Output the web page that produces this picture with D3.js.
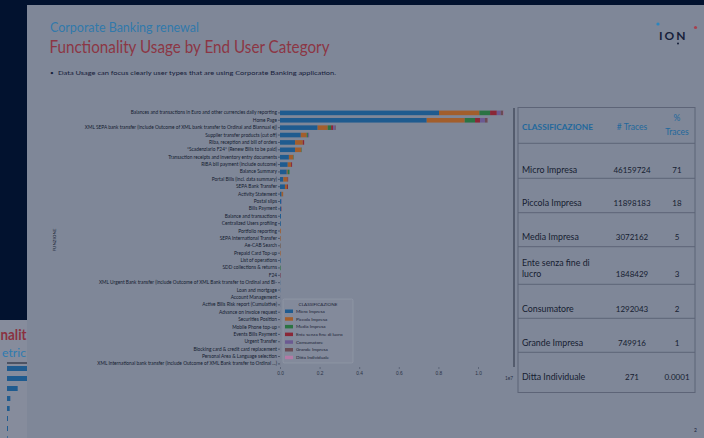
<!DOCTYPE html>
<html>
<head>
<meta charset="utf-8">
<script src="https://cdn.jsdelivr.net/npm/d3@7"></script>
<style>
  body { margin: 0; background: #02122f; }
  svg { display: block; font-family: Lato, "Open Sans", sans-serif; }
</style>
</head>
<body>
<div id="slide"></div>
<script>
// functions, top to bottom
var functions = [
  "Balances and transactions in Euro and other currencies daily reporting",
  "Home Page",
  "XML SEPA bank transfer (include Outcome of XML bank transfer to Ordinal and Biannual ej)",
  "Supplier transfer products (cut off)",
  "Riba, reception and bill of orders",
  "*Scadenziario F24* (Renew Bills to be paid)",
  "Transaction receipts and inventory entry documents",
  "RiBA bill payment (include outcome)",
  "Balance Summary",
  "Portal Bills (incl. data summary)",
  "SEPA Bank Transfer",
  "Activity Statement",
  "Postal slips",
  "Bills Payment",
  "Balance and transactions",
  "Centralized Users profiling",
  "Portfolio reporting",
  "SEPA International Transfer",
  "Ae-CAB Search",
  "Prepaid Card Top-up",
  "List of operations",
  "SDD collections & returns",
  "F24",
  "XML Urgent Bank transfer (include Outcome of XML Bank transfer to Ordinal and Bi-",
  "Loan and mortgage",
  "Account Management",
  "Active Bills Risk report (Cumulative)",
  "Advance on invoice request",
  "Securities Position",
  "Mobile Phone top-up",
  "Events Bills Payment",
  "Urgent Transfer",
  "Blocking card & credit card replacement",
  "Personal Area & Language selection",
  "XML International bank transfer (include Outcome of XML Bank transfer to Ordinal ...)"
];

var categories = ["Micro Impresa", "Piccola Impresa", "Media Impresa", "Ente senza fine di lucro",
  "Consumatore", "Grande Impresa", "Ditta Individuale"];

// traces per function (millions), one array per category
var microImpresa   = [8.03, 7.41, 1.90, 1.05, 0.76, 0.76, 0.45, 0.39, 0.34, 0.17, 0.25, 0.08, 0.06, 0.05, 0.05, 0.04, 0.00, 0.01, 0.02, 0.00, 0.03, 0.00, 0.01, 0.01, 0.01, 0.005, 0.005, 0.005, 0.004, 0.004, 0.003, 0.003, 0.003, 0.002, 0.002];
var piccolaImpresa = [2.04, 1.92, 0.51, 0.30, 0.39, 0.32, 0.22, 0.17, 0.05, 0.21, 0.10, 0.08, 0.00, 0.00, 0.00, 0.00, 0.04, 0.03, 0.02, 0.03, 0.00, 0.00, 0.00, 0.00, 0.00, 0.001, 0.001, 0.001, 0.001, 0.001, 0.001, 0.001, 0.001, 0.001, 0.001];
var mediaImpresa   = [0.54, 0.52, 0.17, 0.06, 0.00, 0.02, 0.02, 0.00, 0.09, 0.00, 0.00, 0.00, 0.00, 0.00, 0.00, 0.00, 0.00, 0.00, 0.00, 0.00, 0.00, 0.03, 0.00, 0.00, 0.00, 0, 0, 0, 0, 0, 0, 0, 0, 0, 0];
var enteNoProfit   = [0.34, 0.25, 0.10, 0.00, 0.07, 0.00, 0.00, 0.05, 0.00, 0.03, 0.05, 0.00, 0.00, 0.02, 0.00, 0.00, 0.00, 0.00, 0.00, 0.00, 0.00, 0.00, 0.02, 0.00, 0.00, 0, 0, 0, 0, 0, 0, 0, 0, 0, 0];
var consumatore    = [0.20, 0.25, 0.10, 0.06, 0.00, 0.00, 0.00, 0.00, 0.00, 0.00, 0.00, 0.00, 0.02, 0.00, 0.00, 0.00, 0.00, 0.00, 0.00, 0.00, 0.00, 0.00, 0.00, 0.00, 0.00, 0, 0, 0, 0, 0, 0, 0, 0, 0, 0];
var grandeImpresa  = [0.13, 0.14, 0.03, 0.00, 0.00, 0.00, 0.00, 0.00, 0.00, 0.00, 0.00, 0.00, 0.00, 0.00, 0.00, 0.00, 0.00, 0.00, 0.00, 0.00, 0.00, 0.00, 0.00, 0.00, 0.00, 0, 0, 0, 0, 0, 0, 0, 0, 0, 0];
var dittaIndiv     = [0.02, 0.01, 0.00, 0.00, 0.00, 0.00, 0.00, 0.00, 0.00, 0.00, 0.00, 0.00, 0.00, 0.00, 0.00, 0.00, 0.00, 0.00, 0.00, 0.00, 0.00, 0.00, 0.00, 0.00, 0.00, 0, 0, 0, 0, 0, 0, 0, 0, 0, 0];

var xTicks = [0, 2e6, 4e6, 6e6, 8e6, 1e7];

// table on the right
var tableNames  = [["Micro Impresa"], ["Piccola Impresa"], ["Media Impresa"], ["Ente senza fine di", "lucro"],
  ["Consumatore"], ["Grande Impresa"], ["Ditta Individuale"]];
var tableTraces = ["46159724", "11898183", "3072162", "1848429", "1292043", "749916", "271"];
var tablePct    = ["71", "18", "5", "3", "2", "1", "0.0001"];

// the other slide peeking out at the bottom left
var peekBars = [60, 60, 32, 10, 8, 3, 3, 2];

var colors = ["#1f5b8f", "#a25e2c", "#2b7343", "#8a2737", "#6b5a92", "#6a4b55", "#b47aa6"];

var W = 704, H = 438;
var svg = d3.select("#slide").append("svg").attr("width", W).attr("height", H);

// backgrounds
svg.append("rect").attr("width", W).attr("height", H).attr("fill", "#02122f");
var peek = svg.append("g");
peek.append("rect").attr("x", 0).attr("y", 320).attr("width", 27).attr("height", 118).attr("fill", "#868c9c");
peek.append("text").attr("x", 0.5).attr("y", 340).attr("fill", "#8a3140")
  .attr("font-size", 15).attr("font-weight", "bold")
  .attr("textLength", 26).attr("lengthAdjust", "spacingAndGlyphs").text("nalit");
peek.append("text").attr("x", 2).attr("y", 357).attr("fill", "#2f7bb0")
  .attr("font-size", 11).attr("textLength", 24).attr("lengthAdjust", "spacingAndGlyphs").text("etric");
peek.append("line").attr("x1", 7).attr("x2", 27).attr("y1", 363).attr("y2", 363)
  .attr("stroke", "#3a4050").attr("stroke-width", 1.5);
var xPeek = d3.scaleLinear().domain([0, 60]).range([7, 27]);
peek.selectAll(".pb").data(peekBars).enter().append("rect")
  .attr("x", 7).attr("y", function (d, i) { return 366 + i * 10; })
  .attr("height", 5).attr("width", function (d) { return xPeek(d) - 7; })
  .attr("fill", "#1f5b8f");

svg.append("rect").attr("x", 27).attr("y", 5).attr("width", W - 27).attr("height", H - 5).attr("fill", "#7f8798");

// titles
svg.append("text").attr("x", 50).attr("y", 32).attr("fill", "#3179ab").attr("font-size", 13)
  .attr("textLength", 149).attr("lengthAdjust", "spacingAndGlyphs").text("Corporate Banking renewal");
svg.append("text").attr("x", 49.5).attr("y", 53).attr("fill", "#8c3644").attr("font-size", 17.5)
  .attr("textLength", 280).attr("lengthAdjust", "spacingAndGlyphs").text("Functionality Usage by End User Category");
svg.append("text").attr("x", 50).attr("y", 75).attr("fill", "#16203a").attr("font-size", 6.5).text("•");
svg.append("text").attr("x", 58).attr("y", 75).attr("fill", "#16203a").attr("font-size", 6.5)
  .attr("textLength", 278).attr("lengthAdjust", "spacingAndGlyphs")
  .text("Data Usage can focus clearly user types that are using Corporate Banking application.");

// logo
svg.append("circle").attr("cx", 658).attr("cy", 24).attr("r", 1.6).attr("fill", "#2a86c0");
svg.append("circle").attr("cx", 695.5).attr("cy", 27.5).attr("r", 1.6).attr("fill", "#a8404e");
svg.append("circle").attr("cx", 678).attr("cy", 43.5).attr("r", 1).attr("fill", "#16203a");
svg.append("text").attr("x", 659).attr("y", 40).attr("fill", "#16203a").attr("font-size", 12)
  .attr("font-weight", "bold").attr("letter-spacing", 2).text("ION");

// page number
svg.append("text").attr("x", 694).attr("y", 432).attr("fill", "#16203a").attr("font-size", 5).text("2");

// ---- chart ----
var rows = functions.map(function (f, i) {
  return {
    name: f,
    values: [microImpresa[i], piccolaImpresa[i], mediaImpresa[i], enteNoProfit[i],
      consumatore[i], grandeImpresa[i], dittaIndiv[i]].map(function (v) { return v * 1e6; })
  };
});

var x = d3.scaleLinear().domain([0, 1e7]).range([280, 478]);
var y = d3.scaleBand().domain(functions).range([110.6, 366.2]).paddingInner(0.38);

var chart = svg.append("g");

var yAxis = d3.axisLeft(y).tickSize(2).tickPadding(1);
var gy = chart.append("g").attr("transform", "translate(280,0)").call(yAxis);
gy.select(".domain").remove();
gy.selectAll("line").attr("stroke", "#1a2236").attr("stroke-width", 0.5);
gy.selectAll("text").attr("font-size", 4.8).attr("fill", "#141c30").attr("font-family", "Lato");

chart.append("text").attr("transform", "translate(56,240) rotate(-90)").attr("text-anchor", "middle")
  .attr("font-size", 4.5).attr("fill", "#141c30").text("FUNZIONE");

var xAxis = d3.axisBottom(x).tickValues(xTicks).tickSize(2).tickPadding(3)
  .tickFormat(function (d) { return (d / 1e7).toFixed(1); });
var gx = chart.append("g").attr("transform", "translate(0,367)").call(xAxis);
gx.select(".domain").remove();
gx.selectAll("line").attr("stroke", "#3a4256").attr("stroke-width", 0.5);
gx.selectAll("text").attr("font-size", 4.8).attr("fill", "#2a3246");
chart.append("text").attr("x", 505).attr("y", 380).attr("font-size", 4.8).attr("fill", "#2a3246").text("1e7");

var stack = d3.stack().keys(d3.range(categories.length)).value(function (d, k) { return d.values[k]; });
var series = stack(rows);

chart.selectAll(".series").data(series).enter().append("g")
  .attr("fill", function (d, i) { return colors[i]; })
  .selectAll("rect").data(function (d) { return d; }).enter().append("rect")
  .attr("y", function (d) { return y(d.data.name); })
  .attr("height", y.bandwidth())
  .attr("x", function (d) { return x(d[0]); })
  .attr("width", function (d) { return Math.max(0, x(d[1]) - x(d[0])); });

// image edge line
chart.append("line").attr("x1", 514).attr("x2", 514).attr("y1", 108).attr("y2", 367)
  .attr("stroke", "#2a3142").attr("stroke-width", 1);

// legend
var lg = chart.append("g").attr("transform", "translate(283,299)");
lg.append("rect").attr("width", 70).attr("height", 64).attr("rx", 1.5)
  .attr("fill", "#838a9b").attr("stroke", "#9aa0ae").attr("stroke-width", 0.5);
lg.append("text").attr("x", 35).attr("y", 6.5).attr("text-anchor", "middle")
  .attr("font-size", 4.6).attr("fill", "#1a2236").text("CLASSIFICAZIONE");
var items = lg.selectAll(".item").data(categories).enter().append("g")
  .attr("transform", function (d, i) { return "translate(2," + (10.5 + i * 7.7) + ")"; });
items.append("rect").attr("width", 8).attr("height", 3.5).attr("fill", function (d, i) { return colors[i]; });
items.append("text").attr("x", 11).attr("y", 3.4).attr("font-size", 4.6).attr("fill", "#1a2236")
  .text(function (d) { return d; });

// ---- table ----
var tb = svg.append("g");
var rowLines = [143.3, 178.3, 212.7, 246.7, 284.3, 318.3, 352.3];
tb.append("rect").attr("x", 518).attr("y", 107.5).attr("width", 177).attr("height", 285)
  .attr("fill", "none").attr("stroke", "#5d6477").attr("stroke-width", 1);
tb.selectAll(".hl").data(rowLines).enter().append("line")
  .attr("x1", 518).attr("x2", 695).attr("y1", function (d) { return d; }).attr("y2", function (d) { return d; })
  .attr("stroke", "#5d6477").attr("stroke-width", 1);

tb.append("text").attr("x", 522).attr("y", 129.5).attr("fill", "#22679c").attr("font-size", 8)
  .attr("font-weight", "bold").attr("textLength", 71).attr("lengthAdjust", "spacingAndGlyphs").text("CLASSIFICAZIONE");
tb.append("text").attr("x", 632).attr("y", 129.5).attr("text-anchor", "middle").attr("fill", "#22679c")
  .attr("font-size", 8.5).text("# Traces");
tb.append("text").attr("x", 677).attr("y", 121).attr("text-anchor", "middle").attr("fill", "#22679c")
  .attr("font-size", 8.5).text("%");
tb.append("text").attr("x", 677).attr("y", 135).attr("text-anchor", "middle").attr("fill", "#22679c")
  .attr("font-size", 8.5).text("Traces");

var baselines = [172.7, 206, 240, 265.7, 311.7, 346, 380];
tableNames.forEach(function (n, i) {
  n.forEach(function (line, j) {
    tb.append("text").attr("x", 522).attr("y", baselines[i] + j * 11.6).attr("fill", "#161d31")
      .attr("font-size", 8.8).text(line);
  });
  var by = baselines[i] + (n.length - 1) * 11.6;
  tb.append("text").attr("x", 632).attr("y", by).attr("text-anchor", "middle").attr("fill", "#161d31")
    .attr("font-size", 8).text(tableTraces[i]);
  tb.append("text").attr("x", 677).attr("y", by).attr("text-anchor", "middle").attr("fill", "#161d31")
    .attr("font-size", 8).text(tablePct[i]);
});
</script>
</body>
</html>
